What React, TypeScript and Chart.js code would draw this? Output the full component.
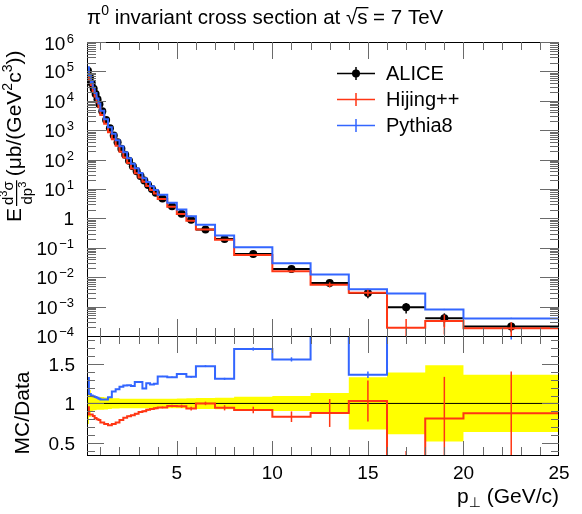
import React, { useEffect, useRef } from "react";
import { Chart, registerables } from "chart.js";

Chart.register(...registerables);

// pT bin edges (GeV/c)
const binEdges = [
  0.3, 0.4, 0.5, 0.6, 0.7, 0.8, 0.9, 1.0, 1.2, 1.4, 1.6, 1.8, 2.0, 2.2, 2.4, 2.6, 2.8, 3.0,
  3.2, 3.4, 3.6, 3.8, 4.0, 4.5, 5.0, 5.5, 6.0, 7.0, 8.0, 10, 12, 14, 16, 18, 20, 25,
];

// E d3sigma/dp3 in μb/(GeV^2 c^3), one value per bin
const aliceXsec = [
  1.05e5, 6.31e4, 3.98e4, 2.57e4, 1.7e4, 1.12e4, 7.59e3, 4.37e3, 2.24e3, 1.17e3, 661, 389,
  234, 145, 91.2, 58.9, 39.8, 27.5, 19.5, 13.8, 10.0, 7.41, 4.79, 2.57, 1.45, 0.891, 0.417,
  0.2, 0.0617, 0.0191, 0.00631, 0.00288, 0.000955, 0.000398, 0.000209,
];
// total relative uncertainty of the measurement
const aliceRelErr = [
  0.26, 0.17, 0.1, 0.09, 0.085, 0.08, 0.08, 0.08, 0.075, 0.07, 0.065, 0.065, 0.06, 0.06, 0.06,
  0.06, 0.06, 0.06, 0.06, 0.06, 0.06, 0.06, 0.06, 0.06, 0.062, 0.065, 0.07, 0.072, 0.085,
  0.095, 0.13, 0.33, 0.39, 0.48, 0.36,
];

const hijingXsec = [
  9.98e4, 5.43e4, 3.42e4, 2.16e4, 1.39e4, 8.96e3, 6.0e3, 3.32e3, 1.66e3, 848, 489, 296, 185,
  119, 76.6, 50.1, 34.6, 24.5, 17.6, 12.7, 9.3, 6.97, 4.55, 2.49, 1.4, 0.833, 0.417, 0.189,
  0.0566, 0.0159, 0.00555, 0.00297, 0.000191, 0.000322, 0.000183,
];
const hijingRelErr = [
  0.005, 0.005, 0.005, 0.005, 0.005, 0.005, 0.005, 0.005, 0.005, 0.005, 0.005, 0.006, 0.006,
  0.007, 0.008, 0.009, 0.01, 0.011, 0.012, 0.013, 0.014, 0.015, 0.012, 0.016, 0.02, 0.025,
  0.022, 0.035, 0.045, 0.08, 0.2, 0.25, 1.0, 0.65, 0.6,
];

const pythiaXsec = [
  1.386e5, 7.07e4, 4.38e4, 2.8e4, 1.84e4, 1.2e4, 8.05e3, 4.59e3, 2.35e3, 1.26e3, 760, 459, 283,
  178, 112, 71.9, 50.5, 34.9, 23.2, 17.3, 12.4, 9.26, 6.42, 3.42, 1.99, 1.19, 0.613, 0.262,
  0.104, 0.0297, 0.0123, 0.00392, 0.00277, 0.000796, 0.000397,
];
const pythiaRelErr = [
  0.003, 0.003, 0.003, 0.003, 0.003, 0.003, 0.003, 0.003, 0.003, 0.003, 0.003, 0.003, 0.003,
  0.003, 0.004, 0.004, 0.004, 0.005, 0.005, 0.005, 0.005, 0.006, 0.005, 0.006, 0.007, 0.008,
  0.008, 0.01, 0.012, 0.017, 0.025, 0.03, 0.04, 0.05, 0.05,
];

const seriesNames = ["ALICE", "Hijing++", "Pythia8"];
const decadeExponents = [-4, -3, -2, -1, 0, 1, 2, 3, 4, 5, 6];
const ratioTickValues = [0.5, 1, 1.5];
const ratioTickLabels = ["0.5", "1", "1.5"];
const xTickValues = [5, 10, 15, 20, 25];
const xTickLabels = ["5", "10", "15", "20", "25"];

const W = 582;
const H = 514;
const FRAME = { left: 87, right: 559, top: 42, split: 336, bottom: 455 };
const FONT = "'Liberation Sans', Arial, Helvetica, 'DejaVu Sans', sans-serif";
const RED = "#ff3614";
const BLUE = "#3366ff";
const YELLOW = "#ffff00";
const TICK = "#6a6a6a";

const binCenters = aliceXsec.map((_, i) => (binEdges[i] + binEdges[i + 1]) / 2);
const hijingRatio = hijingXsec.map((v, i) => v / aliceXsec[i]);
const pythiaRatio = pythiaXsec.map((v, i) => v / aliceXsec[i]);

// histogram outline: one point per lower edge plus the last upper edge
const histPoints = (vals: number[]) =>
  vals
    .map((v, i) => ({ x: binEdges[i], y: v }))
    .concat([{ x: binEdges[vals.length], y: vals[vals.length - 1] }]);

type Run = { t: string; s: number; dy?: number; dx?: number };

function runsWidth(ctx: CanvasRenderingContext2D, runs: Run[]) {
  let w = 0;
  for (const r of runs) {
    ctx.font = `${r.s}px ${FONT}`;
    w += ctx.measureText(r.t).width + (r.dx || 0);
  }
  return w;
}

function drawRuns(ctx: CanvasRenderingContext2D, runs: Run[], x: number, y: number) {
  let cx = x;
  ctx.textAlign = "left";
  ctx.textBaseline = "alphabetic";
  for (const r of runs) {
    ctx.font = `${r.s}px ${FONT}`;
    cx += r.dx || 0;
    ctx.fillText(r.t, cx, y + (r.dy || 0));
    cx += ctx.measureText(r.t).width;
  }
  return cx;
}

function clipArea(ctx: CanvasRenderingContext2D, chart: any) {
  const a = chart.chartArea;
  ctx.beginPath();
  ctx.rect(a.left, a.top, a.right - a.left, a.bottom - a.top);
  ctx.clip();
}

function vLine(ctx: CanvasRenderingContext2D, x: number, y1: number, y2: number) {
  const px = Math.round(x) + 0.5;
  ctx.beginPath();
  ctx.moveTo(px, y1);
  ctx.lineTo(px, y2);
  ctx.stroke();
}

function hLine(ctx: CanvasRenderingContext2D, y: number, x1: number, x2: number) {
  const py = Math.round(y) + 0.5;
  ctx.beginPath();
  ctx.moveTo(x1, py);
  ctx.lineTo(x2, py);
  ctx.stroke();
}

function drawFrame(ctx: CanvasRenderingContext2D, chart: any) {
  const a = chart.chartArea;
  ctx.strokeStyle = "#000";
  ctx.lineWidth = 1;
  ctx.strokeRect(a.left + 0.5, a.top + 0.5, a.right - a.left - 1, a.bottom - a.top);
}

function drawXTicks(
  ctx: CanvasRenderingContext2D,
  chart: any,
  topMajor: number,
  topMinor: number,
  botMajor: number,
  botMinor: number
) {
  const a = chart.chartArea;
  const xs = chart.scales.x;
  ctx.strokeStyle = TICK;
  ctx.lineWidth = 1;
  for (let v = 1; v < 25; v++) {
    const px = xs.getPixelForValue(v);
    const major = v % 5 === 0;
    vLine(ctx, px, a.top, a.top + (major ? topMajor : topMinor));
    vLine(ctx, px, a.bottom, a.bottom - (major ? botMajor : botMinor));
  }
}

function drawYTicks(ctx: CanvasRenderingContext2D, chart: any, ticks: { v: number; major: boolean }[], major: number, minor: number) {
  const a = chart.chartArea;
  const ys = chart.scales.y;
  ctx.strokeStyle = TICK;
  ctx.lineWidth = 1;
  for (const t of ticks) {
    const py = ys.getPixelForValue(t.v);
    const len = t.major ? major : minor;
    hLine(ctx, py, a.left, a.left + len);
    hLine(ctx, py, a.right, a.right - len);
  }
}

// error bars for a histogram-like series at the bin centres
function drawVErrors(
  ctx: CanvasRenderingContext2D,
  chart: any,
  vals: number[],
  errs: number[],
  color: string,
  width: number
) {
  const xs = chart.scales.x;
  const ys = chart.scales.y;
  ctx.save();
  clipArea(ctx, chart);
  ctx.strokeStyle = color;
  ctx.lineWidth = width;
  vals.forEach((v, i) => {
    const lo = Math.max(v - errs[i], 1e-12);
    const hi = v + errs[i];
    const px = xs.getPixelForValue(binCenters[i]);
    ctx.beginPath();
    ctx.moveTo(px, ys.getPixelForValue(lo));
    ctx.lineTo(px, ys.getPixelForValue(hi));
    ctx.stroke();
  });
  ctx.restore();
}

const topPanelPlugin = {
  id: "topPanel",
  beforeDatasetsDraw(chart: any) {
    const ctx = chart.ctx as CanvasRenderingContext2D;
    const xs = chart.scales.x;
    const ys = chart.scales.y;
    ctx.save();
    clipArea(ctx, chart);
    ctx.strokeStyle = "#000";
    ctx.lineWidth = 2;
    aliceXsec.forEach((v, i) => {
      const py = ys.getPixelForValue(v);
      ctx.beginPath();
      ctx.moveTo(xs.getPixelForValue(binEdges[i]), py);
      ctx.lineTo(xs.getPixelForValue(binEdges[i + 1]), py);
      ctx.stroke();
    });
    ctx.restore();
    drawVErrors(ctx, chart, aliceXsec, aliceXsec.map((v, i) => v * aliceRelErr[i]), "#000", 1.5);
  },
  afterDatasetsDraw(chart: any) {
    const ctx = chart.ctx as CanvasRenderingContext2D;
    drawVErrors(ctx, chart, hijingXsec, hijingXsec.map((v, i) => v * hijingRelErr[i]), RED, 1.5);
    drawVErrors(ctx, chart, pythiaXsec, pythiaXsec.map((v, i) => v * pythiaRelErr[i]), BLUE, 1.5);
  },
  afterDraw(chart: any) {
    const ctx = chart.ctx as CanvasRenderingContext2D;
    const a = chart.chartArea;
    const ys = chart.scales.y;
    ctx.save();
    drawFrame(ctx, chart);
    drawXTicks(ctx, chart, 17, 8, 17, 8);
    const yt: { v: number; major: boolean }[] = [];
    decadeExponents.forEach((d) => {
      yt.push({ v: Math.pow(10, d), major: true });
      if (d < 6) for (let k = 2; k <= 9; k++) yt.push({ v: k * Math.pow(10, d), major: false });
    });
    drawYTicks(ctx, chart, yt, 19, 9);

    // y labels
    ctx.fillStyle = "#000";
    decadeExponents.forEach((d) => {
      const py = ys.getPixelForValue(Math.pow(10, d));
      const runs: Run[] =
        d === 0
          ? [{ t: "1", s: 19 }]
          : [
              { t: "10", s: 19 },
              { t: d < 0 ? "\u2212" + String(-d) : String(d), s: 13, dy: -7, dx: 1.5 },
            ];
      const w = runsWidth(ctx, runs);
      const by = d === 6 ? py + 8 : py + 7;
      drawRuns(ctx, runs, 74 - w, by);
    });

    // title
    let x = drawRuns(
      ctx,
      [
        { t: "\u03c0", s: 20.5 },
        { t: "0", s: 14, dy: -9 },
        { t: " invariant cross section at ", s: 20.5 },
      ],
      a.left,
      24
    );
    ctx.font = `20.5px ${FONT}`;
    const rw = ctx.measureText("\u221a").width;
    const sw = ctx.measureText("s").width;
    ctx.fillText("\u221a", x, 24);
    ctx.fillText("s", x + rw, 24);
    ctx.fillRect(x + rw - 1, 24 - 17, sw + 2, 1.3);
    x += rw + sw;
    drawRuns(ctx, [{ t: " = 7 TeV", s: 20.5 }], x, 24);

    // y title
    ctx.save();
    ctx.translate(21, 222);
    ctx.rotate(-Math.PI / 2);
    let u = drawRuns(ctx, [{ t: "E", s: 21 }], 0, 0) + 2;
    const num: Run[] = [
      { t: "d", s: 15 },
      { t: "3", s: 11, dy: -6 },
      { t: "\u03c3", s: 15 },
    ];
    const den: Run[] = [
      { t: "dp", s: 15 },
      { t: "3", s: 11, dy: -6 },
    ];
    const nw = runsWidth(ctx, num);
    const dw = runsWidth(ctx, den);
    const fw = Math.max(nw, dw) + 2;
    drawRuns(ctx, num, u + (fw - nw) / 2, -8);
    drawRuns(ctx, den, u + (fw - dw) / 2, 11);
    ctx.fillRect(u, -5, fw, 1.2);
    u += fw + 4;
    drawRuns(
      ctx,
      [
        { t: "(\u03bcb/(GeV", s: 21 },
        { t: "2", s: 14, dy: -9 },
        { t: "c", s: 21 },
        { t: "3", s: 14, dy: -9 },
        { t: "))", s: 21 },
      ],
      u,
      0
    );
    ctx.restore();

    // legend
    const rows = [
      { color: "#000", y: 73, marker: true },
      { color: RED, y: 99, marker: false },
      { color: BLUE, y: 125, marker: false },
    ];
    rows.forEach((r, i) => {
      ctx.strokeStyle = r.color;
      ctx.lineWidth = 1.5;
      ctx.beginPath();
      ctx.moveTo(337, r.y + 0.5);
      ctx.lineTo(375, r.y + 0.5);
      ctx.moveTo(356, r.y - 6);
      ctx.lineTo(356, r.y + 7);
      ctx.stroke();
      if (r.marker) {
        ctx.fillStyle = "#000";
        ctx.beginPath();
        ctx.arc(356, r.y + 0.5, 4, 0, Math.PI * 2);
        ctx.fill();
      }
      ctx.fillStyle = "#000";
      ctx.font = `20px ${FONT}`;
      ctx.textAlign = "left";
      ctx.textBaseline = "alphabetic";
      ctx.fillText(seriesNames[i], 386, r.y + 7);
    });
    ctx.restore();
  },
};

const ratioPanelPlugin = {
  id: "ratioPanel",
  afterDatasetsDraw(chart: any) {
    const ctx = chart.ctx as CanvasRenderingContext2D;
    drawVErrors(ctx, chart, hijingRatio, hijingRatio.map((v, i) => v * hijingRelErr[i]), RED, 1.5);
    drawVErrors(ctx, chart, pythiaRatio, pythiaRatio.map((v, i) => v * pythiaRelErr[i]), BLUE, 1.5);
  },
  afterDraw(chart: any) {
    const ctx = chart.ctx as CanvasRenderingContext2D;
    const a = chart.chartArea;
    const xs = chart.scales.x;
    const ys = chart.scales.y;
    ctx.save();
    drawFrame(ctx, chart);
    drawXTicks(ctx, chart, 17, 8, 14, 8);
    const yt: { v: number; major: boolean }[] = [];
    for (let k = 4; k <= 18; k++) yt.push({ v: k / 10, major: k % 5 === 0 });
    drawYTicks(ctx, chart, yt, 17, 8);

    ctx.fillStyle = "#000";
    ratioTickValues.forEach((v, i) => {
      const py = ys.getPixelForValue(v);
      const runs: Run[] = [{ t: ratioTickLabels[i], s: 19 }];
      const w = runsWidth(ctx, runs);
      drawRuns(ctx, runs, 75 - w, py + 7);
    });

    ctx.font = `19px ${FONT}`;
    ctx.textAlign = "center";
    ctx.textBaseline = "alphabetic";
    xTickValues.forEach((v, i) => {
      ctx.fillText(xTickLabels[i], xs.getPixelForValue(v), 479);
    });

    const xt: Run[] = [
      { t: "p", s: 21 },
      { t: "\u22a5", s: 14, dy: 4 },
      { t: " (GeV/c)", s: 21 },
    ];
    drawRuns(ctx, xt, a.right - runsWidth(ctx, xt), 503);

    ctx.save();
    ctx.translate(29, 413);
    ctx.rotate(-Math.PI / 2);
    ctx.font = `21px ${FONT}`;
    ctx.textAlign = "center";
    ctx.fillText("MC/Data", 0, 0);
    ctx.restore();
    ctx.restore();
  },
};

function baseOptions(yScale: any, padTop: number, padBottom: number) {
  return {
    responsive: false,
    animation: false as const,
    devicePixelRatio: 1,
    events: [] as any[],
    layout: { padding: { left: FRAME.left, right: W - FRAME.right, top: padTop, bottom: padBottom } },
    scales: {
      x: { type: "linear" as const, min: binEdges[0], max: binEdges[binEdges.length - 1], display: false },
      y: { ...yScale, display: false },
    },
    plugins: { legend: { display: false }, tooltip: { enabled: false } },
  };
}

const histStyle = (color: string, order: number) => ({
  stepped: "before" as const,
  borderColor: color,
  borderWidth: 2,
  pointRadius: 0,
  fill: false,
  order,
});

export default function App() {
  const topRef = useRef<HTMLCanvasElement>(null);
  const ratioRef = useRef<HTMLCanvasElement>(null);

  useEffect(() => {
    const top = new Chart(topRef.current!, {
      type: "line",
      data: {
        datasets: [
          {
            label: seriesNames[0],
            data: aliceXsec.map((v, i) => ({ x: binCenters[i], y: v })),
            showLine: false,
            pointRadius: 4,
            pointBackgroundColor: "#000",
            pointBorderColor: "#000",
            pointBorderWidth: 0,
            order: 3,
          },
          { label: seriesNames[1], data: histPoints(hijingXsec), ...histStyle(RED, 2) },
          { label: seriesNames[2], data: histPoints(pythiaXsec), ...histStyle(BLUE, 1) },
        ],
      },
      options: baseOptions({ type: "logarithmic", min: 1e-4, max: 1e6 }, FRAME.top, H - FRAME.split) as any,
      plugins: [topPanelPlugin],
    });

    const ratio = new Chart(ratioRef.current!, {
      type: "line",
      data: {
        datasets: [
          {
            label: "band-hi",
            data: histPoints(aliceRelErr.map((e) => 1 + e)),
            stepped: "before",
            borderColor: "rgba(0,0,0,0)",
            borderWidth: 0,
            pointRadius: 0,
            backgroundColor: YELLOW,
            fill: "+1",
            order: 5,
          },
          {
            label: "band-lo",
            data: histPoints(aliceRelErr.map((e) => 1 - e)),
            stepped: "before",
            borderColor: "rgba(0,0,0,0)",
            borderWidth: 0,
            pointRadius: 0,
            fill: false,
            order: 4,
          },
          {
            label: "unity",
            data: [
              { x: binEdges[0], y: 1 },
              { x: binEdges[binEdges.length - 1], y: 1 },
            ],
            borderColor: "#000",
            borderWidth: 1,
            pointRadius: 0,
            fill: false,
            order: 3,
          },
          { label: seriesNames[1], data: histPoints(hijingRatio), ...histStyle(RED, 2) },
          { label: seriesNames[2], data: histPoints(pythiaRatio), ...histStyle(BLUE, 1) },
        ],
      },
      options: baseOptions({ type: "linear", min: 0.35, max: 1.85 }, FRAME.split, H - FRAME.bottom) as any,
      plugins: [ratioPanelPlugin],
    });

    return () => {
      top.destroy();
      ratio.destroy();
    };
  }, []);

  const canvasStyle: React.CSSProperties = { position: "absolute", left: 0, top: 0, width: W, height: H };
  return (
    <div style={{ position: "fixed", left: 0, top: 0, width: W, height: H, background: "#fff" }}>
      <canvas ref={topRef} width={W} height={H} style={canvasStyle} />
      <canvas ref={ratioRef} width={W} height={H} style={canvasStyle} />
    </div>
  );
}
